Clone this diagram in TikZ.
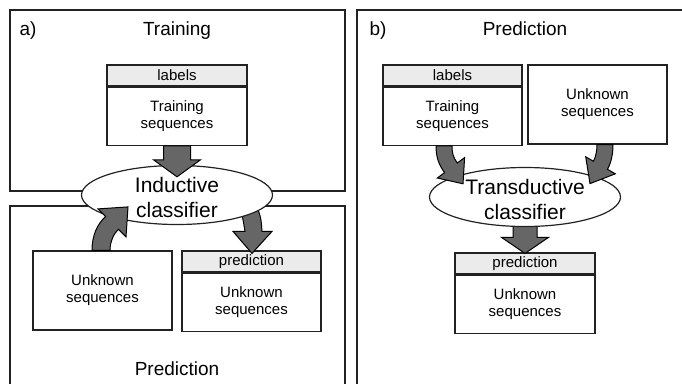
\documentclass[tikz,border=0pt]{standalone}
\usepackage{fontspec}
\setmainfont{Liberation Sans}
\usetikzlibrary{shapes.geometric,calc}
\definecolor{hdrgray}{HTML}{EBEBEB}
\definecolor{arrgray}{HTML}{666666}
\definecolor{linegray}{HTML}{222222}
\tikzset{
 panel/.style={draw=linegray, line width=1.5pt},
 hdr/.style={draw=linegray, line width=1.2pt, fill=hdrgray, minimum width=140pt, minimum height=21pt, inner sep=0pt, font=\fontsize{15}{17}\selectfont},
 body/.style={draw=linegray, line width=1.2pt, fill=white, minimum width=140pt, minimum height=58pt, inner sep=0pt, align=center, font=\fontsize{15}{17}\selectfont},
 plainbox/.style={body, minimum height=79pt},
 clfshape/.style={ellipse, draw=linegray, line width=1.2pt, fill=white, minimum width=191pt, minimum height=59pt, inner sep=0pt},
 clftext/.style={align=center, inner sep=0pt, font=\fontsize{21}{25}\selectfont},
 ttl/.style={font=\fontsize{19}{22}\selectfont, inner sep=0pt, anchor=base},
 blockarrow/.style={draw=black, line width=1pt, fill=arrgray, line join=miter},
}
\begin{document}
\begin{tikzpicture}[x=1pt, y=-1pt]
\useasboundingbox (0,0) rectangle (682,383);
\clip (0,0) rectangle (682,383);
% panels
\draw[panel] (10,10) rectangle (345,191);
\draw[panel] (10,400) -- (10,206) -- (345,206) -- (345,400);
\draw[panel] (357,400) -- (357,10) -- (700,10);
% titles
\node[ttl] (ta) at (28,35) {a)};
\node[ttl] (tTrain) at (177,35) {Training};
\node[ttl] (tPredA) at (177,375) {Prediction};
\node[ttl] (tb) at (378,35) {b)};
\node[ttl] (tPredB) at (525,35) {Prediction};
% boxes panel a
\node[hdr] (trainAh) at (177,75.5) {labels};
\node[body, anchor=north] (trainA) at (trainAh.south) {Training\\sequences};
\node[plainbox, minimum width=139pt] (unkA) at (102.5,290.5) {Unknown\\sequences};
\node[hdr, minimum width=139pt] (predAh) at (251.5,261.5) {prediction};
\node[body, minimum width=139pt, anchor=north] (predA) at (predAh.south) {Unknown\\sequences};
% boxes panel b
\node[hdr, minimum width=139pt] (trainBh) at (452.5,75.5) {labels};
\node[body, minimum width=139pt, anchor=north] (trainB) at (trainBh.south) {Training\\sequences};
\node[plainbox, minimum width=139pt] (unkB) at (597.5,104.5) {Unknown\\sequences};
\node[hdr] (predBh) at (525,263.5) {prediction};
\node[body, anchor=north] (predB) at (predBh.south) {Unknown\\sequences};
% arrows leaving the classifiers (under the ellipses)
\begin{scope}[shift={(predAh.north)}]
\path[blockarrow] (-11.5,-46) .. controls (-8.5,-31) .. (-6.5,-19) -- (-18.5,-19) -- (0.5,3) -- (20.5,-19) -- (10.5,-19) .. controls (9.5,-33) .. (3.5,-49) -- cycle;
\end{scope}
\begin{scope}[shift={(predBh.north)}]
\path[blockarrow] (-12,-40) -- (-12,-15) -- (-23.5,-15) -- (0,1) -- (23.5,-15) -- (12,-15) -- (12,-40) -- cycle;
\end{scope}
% classifiers
\node[clfshape] (clfA) at (177,195) {};
\node[clftext] (clfAt) at (177,197.5) {Inductive\\classifier};
\node[clfshape] (clfB) at (525,197) {};
\node[clftext] (clfBt) at (525,199.5) {Transductive\\classifier};
% arrows entering the classifiers (over the ellipses)
\begin{scope}[shift={(trainA.south)}]
\path[blockarrow] (-13.5,0) -- (-13.5,14) -- (-23.5,14) -- (0,31) -- (23.5,14) -- (13.5,14) -- (13.5,0) -- cycle;
\end{scope}
\begin{scope}[shift={(unkA.north)}]
\path[blockarrow] (-10.5,0) .. controls (-10.5,-16) and (-4.5,-27) .. (3.1,-33.9) -- (-4.5,-41.5) -- (25.5,-43.5) -- (23.5,-13.5) -- (15.9,-21.1) .. controls (11.5,-17) and (7.5,-9) .. (7.5,0) -- cycle;
\end{scope}
\begin{scope}[shift={(trainB.south)}]
\path[blockarrow] (-16.5,0) .. controls (-16.5,11) and (-13.9,18.8) .. (-7.9,26.8) -- (-15.1,32.2) -- (10.5,38) -- (12.1,11.8) -- (4.9,17.2) .. controls (0.4,11.2) and (-0.5,7) .. (-0.5,0) -- cycle;
\end{scope}
\begin{scope}[shift={(unkB.south)}]
\path[blockarrow] (-0.5,0) .. controls (-0.5,6) and (-1.5,11.5) .. (-4,16.7) -- (-11.8,12.2) -- (-7.5,39) -- (17.8,29.2) -- (10,24.7) .. controls (14,17.7) and (15.5,8) .. (15.5,0) -- cycle;
\end{scope}
\end{tikzpicture}
\end{document}
